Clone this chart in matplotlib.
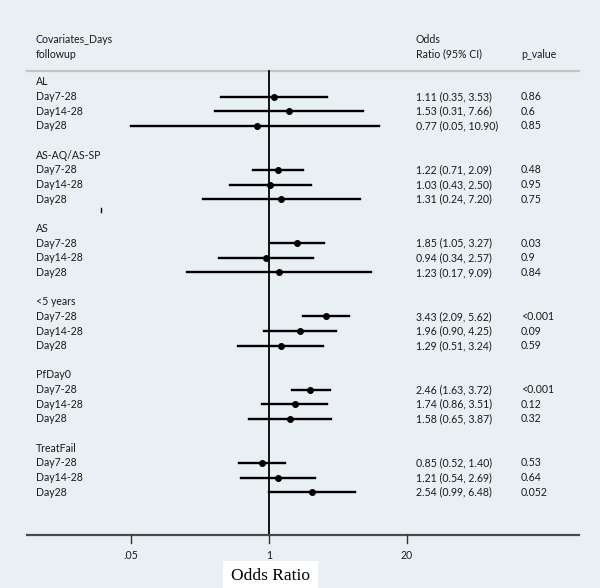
import numpy as np
import matplotlib
matplotlib.use("Agg")
import matplotlib.pyplot as plt
from matplotlib import transforms

groups = ["AL", "AS-AQ/AS-SP", "AS", "<5 years", "PfDay0", "TreatFail"]
periods = ["Day7-28", "Day14-28", "Day28"]
odds = [1.11, 1.53, 0.77,
        1.22, 1.03, 1.31,
        1.85, 0.94, 1.23,
        3.43, 1.96, 1.29,
        2.46, 1.74, 1.58,
        0.85, 1.21, 2.54]
ci_low = [0.35, 0.31, 0.05,
          0.71, 0.43, 0.24,
          1.05, 0.34, 0.17,
          2.09, 0.90, 0.51,
          1.63, 0.86, 0.65,
          0.52, 0.54, 0.99]
ci_high = [3.53, 7.66, 10.90,
           2.09, 2.50, 7.20,
           3.27, 2.57, 9.09,
           5.62, 4.25, 3.24,
           3.72, 3.51, 3.87,
           1.40, 2.69, 6.48]
p_values = ["0.86", "0.6", "0.85",
            "0.48", "0.95", "0.75",
            "0.03", "0.9", "0.84",
            "<0.001", "0.09", "0.59",
            "<0.001", "0.12", "0.32",
            "0.53", "0.64", "0.052"]
tick_vals = [0.05, 1, 20]
tick_labels = [".05", "1", "20"]

bg = "#e8f0f3"
plt.rcParams['font.family'] = ['Lato', 'DejaVu Sans']
fs = 7.6
tc = "#1a1a1a"

fig = plt.figure(figsize=(6, 5.88), dpi=100, facecolor=bg)
ax = fig.add_axes([0, 0, 1, 1])
ax.set_facecolor(bg)
ax.set_xscale("log")
ax.set_xlim(0.00291, 1319)
ax.set_ylim(34.54, -5.597)
ax.axis("off")

blend = transforms.blended_transform_factory(ax.transAxes, ax.transData)
x_lab, x_or, x_p = 36 / 600, 416 / 600, 521 / 600

# header
ax.text(x_lab, -2.87, "Covariates_Days", transform=blend, fontsize=fs, va="center", color=tc)
ax.text(x_lab, -1.91, "followup", transform=blend, fontsize=fs, va="center", color=tc)
ax.text(x_or, -2.87, "Odds", transform=blend, fontsize=fs, va="center", color=tc)
ax.text(x_or, -1.91, "Ratio (95% CI)", transform=blend, fontsize=fs, va="center", color=tc)
ax.text(x_p, -1.91, "p_value", transform=blend, fontsize=fs, va="center", color=tc)
ax.plot([27 / 600, 579 / 600], [-0.75, -0.75], transform=blend, color="#c4c4c4", lw=1.6)

# rows
for g, name in enumerate(groups):
    base = g * 5
    ax.text(x_lab, base, name, transform=blend, fontsize=fs, va="center", color=tc)
    for j, per in enumerate(periods):
        i = g * 3 + j
        y = base + 1 + j
        ax.text(x_lab, y, per, transform=blend, fontsize=fs, va="center", color=tc)
        ax.plot([ci_low[i], ci_high[i]], [y, y], color="black", lw=1.7)
        ax.plot(odds[i], y, "o", color="black", ms=4)
        ax.text(x_or, y, "%.2f (%.2f, %.2f)" % (odds[i], ci_low[i], ci_high[i]),
                transform=blend, fontsize=fs, va="center", color=tc)
        ax.text(x_p, y, p_values[i], transform=blend, fontsize=fs, va="center", color=tc)

# stray mark
ax.plot([101 / 600, 101 / 600], [8.62, 8.88], transform=blend, color="black", lw=1)

# reference line at 1
ax.plot([1, 1], [-0.75, 30.92], color="black", lw=1.3)

# x axis
ax.plot([27 / 600, 579 / 600], [30.92, 30.92], transform=blend, color="#4a4a4a", lw=1.6)
for v, lab in zip(tick_vals, tick_labels):
    ax.plot([v, v], [30.92, 31.5], color="#333333", lw=1)
    ax.text(v, 32.3, lab, ha="center", va="center", fontsize=fs, color=tc)

ax.text(1.03, 33.75, "Odds Ratio", ha="center", va="center", fontsize=12.5,
        family="Liberation Serif",
        bbox=dict(boxstyle="square,pad=0.45", facecolor="white", edgecolor="none"))

fig.savefig("out.png", dpi=100, facecolor=bg)
